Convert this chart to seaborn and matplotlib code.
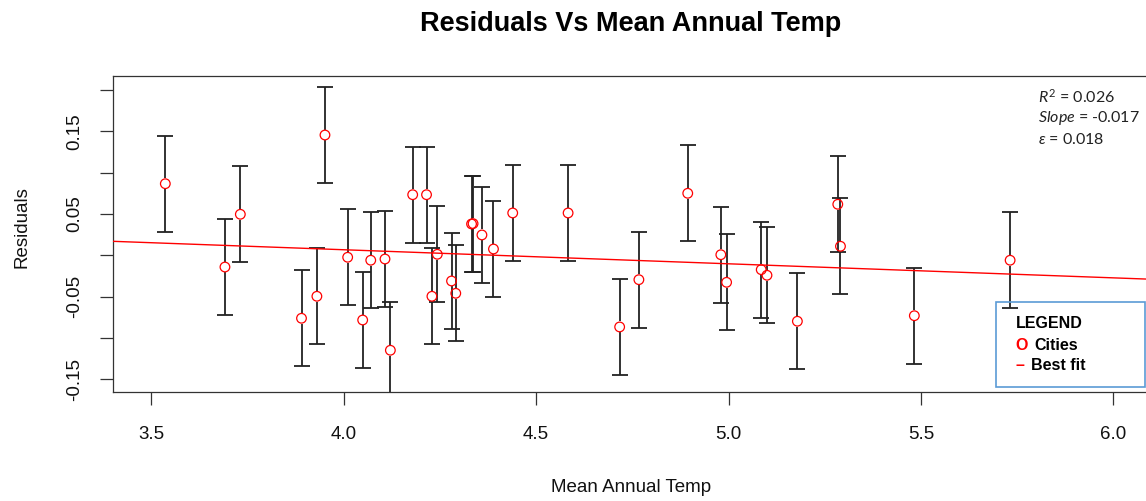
import matplotlib
matplotlib.use("Agg")
import matplotlib.pyplot as plt
from matplotlib.patches import Rectangle
import numpy as np
import pandas as pd
import seaborn as sns

# Mean annual temperature of each city and the residual of the model
temps = [3.536, 3.691, 3.731, 3.890, 3.930, 3.951, 4.010, 4.049, 4.070, 4.107,
         4.121, 4.179, 4.215, 4.229, 4.243, 4.280, 4.291, 4.332, 4.336, 4.359,
         4.389, 4.439, 4.583, 4.717, 4.767, 4.894, 4.980, 4.995, 5.085, 5.100,
         5.179, 5.284, 5.291, 5.483, 5.732]
resid = [0.0866, -0.0142, 0.0496, -0.0762, -0.0496, 0.1455, -0.0024, -0.0783, -0.0060, -0.0045,
         -0.1149, 0.0733, 0.0733, -0.0496, 0.0012, -0.0311, -0.0460, 0.0379, 0.0383, 0.0246,
         0.0076, 0.0512, 0.0512, -0.0867, -0.0295, 0.0750, 0.0007, -0.0327, -0.0174, -0.0242,
         -0.0798, 0.0617, 0.0109, -0.0731, -0.0060]
ci_half = 0.058          # half width of each confidence interval

# Fit statistics
r_squared = 0.026
slope = -0.017
intercept = 0.0747
epsilon = 0.018

x_ticks = [3.5, 4.0, 4.5, 5.0, 5.5, 6.0]
y_ticks = [-0.15, -0.10, -0.05, 0.0, 0.05, 0.10, 0.15, 0.20]
y_tick_labels = ["-0.15", "", "-0.05", "", "0.05", "", "0.15", ""]

df = pd.DataFrame({"temp": temps, "resid": resid})

sns.set_theme(style="white")
plt.rcParams["font.family"] = ["Liberation Sans", "DejaVu Sans"]
plt.rcParams["mathtext.fontset"] = "custom"
plt.rcParams["mathtext.rm"] = "Lato"
plt.rcParams["mathtext.it"] = "Lato:italic"

W, H = 1146, 501
fig = plt.figure(figsize=(W / 100, H / 100), dpi=100)
ax = fig.add_axes([113 / W, (H - 392) / H, (1149 - 113) / W, (392 - 76) / H])

xlim = (3.40, 6.093)
ylim = (-0.1654, 0.2169)
ax.set_xlim(*xlim)
ax.set_ylim(*ylim)

bar_col = "#222222"
gap = 0.0066
x = np.asarray(temps)
y = np.asarray(resid)
# interval bars, leaving a gap around each point
ax.vlines(x, y + gap, y + ci_half, color=bar_col, lw=1.3, zorder=2)
ax.vlines(x, y - ci_half, y - gap, color=bar_col, lw=1.3, zorder=2)
ax.errorbar(x, y, yerr=ci_half, fmt="none", ecolor=bar_col, elinewidth=0,
            capsize=5.6, capthick=1.3, zorder=2)

sns.scatterplot(data=df, x="temp", y="resid", ax=ax, marker="o", s=48,
                fc="none", ec="#ff0000", linewidth=0.9, zorder=3, legend=False)

# regression line of the residuals
line_x = np.array(xlim)
line_df = pd.DataFrame({"temp": line_x, "fit": intercept + slope * line_x})
sns.lineplot(data=line_df, x="temp", y="fit", ax=ax, color="#ff0000", lw=1.0, zorder=4)

ax.set_xticks(x_ticks)
ax.set_xticklabels([f"{v:.1f}" for v in x_ticks])
ax.set_yticks(y_ticks)
ax.set_yticklabels(y_tick_labels, rotation=90, va="center")
ax.tick_params(axis="both", direction="out", length=9.3, width=0.9, color="#333333",
               labelsize=13.5, labelcolor="#111111")
ax.tick_params(axis="x", pad=15.5, bottom=True)
ax.tick_params(axis="y", pad=12, left=True)
ax.set_xlabel("")
ax.set_ylabel("")
for side in ["left", "bottom", "top", "right"]:
    ax.spines[side].set_color("#333333")
    ax.spines[side].set_linewidth(0.9)

fig.text(631 / W, 1 - 24 / H, "Residuals Vs Mean Annual Temp", ha="center", va="center",
         fontsize=19.5, fontweight="bold", color="black")
fig.text(631 / W, 1 - 488 / H, "Mean Annual Temp", ha="center", va="center",
         fontsize=13.5, color="#111111")
fig.text(22 / W, 1 - 227 / H, "Residuals", ha="center", va="center", rotation=90,
         fontsize=13.5, color="#111111")

# fit statistics
stat_kw = dict(ha="left", va="center", fontsize=11.5, color="#222222", family=["Lato", "DejaVu Sans"])
fig.text(1038 / W, 1 - 97 / H, r"$R^{2}$" + f" = {r_squared:.3f}", **stat_kw)
fig.text(1038 / W, 1 - 118 / H, r"$Slope$" + f" = {slope:.3f}", **stat_kw)
fig.text(1038 / W, 1 - 139 / H, r"$\varepsilon$" + f" = {epsilon:.3f}", **stat_kw)

# legend box
fig.patches.append(Rectangle((996 / W, 1 - 387 / H), (1145 - 996) / W, (387 - 302) / H,
                             transform=fig.transFigure, fc="none", ec="#5b9bd5", lw=1.2))
leg_kw = dict(ha="left", va="center", fontsize=11.5, fontweight="bold")
fig.text(1016 / W, 1 - 323 / H, "LEGEND", color="black", **leg_kw)
fig.text(1015 / W, 1 - 345 / H, "O", color="#ff0000", **leg_kw)
fig.text(1034 / W, 1 - 345 / H, "Cities", color="black", **leg_kw)
fig.text(1015 / W, 1 - 366 / H, "\u2013", color="#ff0000", **leg_kw)
fig.text(1031 / W, 1 - 366 / H, "Best fit", color="black", **leg_kw)

fig.savefig("out.png", dpi=100)
